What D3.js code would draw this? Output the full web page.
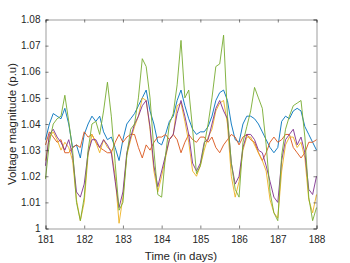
<!DOCTYPE html>
<html><head><meta charset="utf-8">
<script src="https://cdn.jsdelivr.net/npm/d3@7"></script>
<style>body{margin:0;background:#fff}svg{display:block}text{font-family:"Liberation Sans",Arial,sans-serif}</style>
</head><body><svg id="c" width="350" height="263"></svg>
<script>
const days = [181.0,181.1,181.2,181.3,181.4,181.5,181.6,181.7,181.8,181.9,
 182.0,182.1,182.2,182.3,182.4,182.5,182.6,182.7,182.8,182.9,
 183.0,183.1,183.2,183.3,183.4,183.5,183.6,183.7,183.8,183.9,
 184.0,184.1,184.2,184.3,184.4,184.5,184.6,184.7,184.8,184.9,
 185.0,185.1,185.2,185.3,185.4,185.5,185.6,185.7,185.8,185.9,
 186.0,186.1,186.2,186.3,186.4,186.5,186.6,186.7,186.8,186.9,
 187.0,187.1,187.2,187.3,187.4,187.5,187.6,187.7,187.8,187.9,188.0];
const blue = [1.034,1.040,1.044,1.043,1.042,1.046,1.040,1.031,1.032,1.027,
 1.036,1.040,1.043,1.041,1.043,1.037,1.034,1.035,1.031,1.026,
 1.034,1.040,1.042,1.044,1.047,1.050,1.053,1.045,1.040,1.033,
 1.032,1.036,1.041,1.043,1.049,1.053,1.047,1.042,1.038,1.036,
 1.037,1.037,1.039,1.043,1.049,1.052,1.053,1.049,1.040,1.034,
 1.033,1.040,1.043,1.043,1.042,1.040,1.037,1.034,1.031,1.029,
 1.031,1.041,1.043,1.042,1.045,1.046,1.045,1.039,1.036,1.033,1.030];
const orange = [1.032,1.037,1.035,1.033,1.034,1.029,1.029,1.031,1.032,1.031,
 1.037,1.035,1.036,1.033,1.031,1.030,1.029,1.029,1.033,1.036,
 1.033,1.035,1.036,1.036,1.031,1.027,1.032,1.030,1.033,1.035,
 1.035,1.036,1.034,1.036,1.034,1.029,1.033,1.036,1.034,1.033,
 1.035,1.035,1.033,1.035,1.031,1.029,1.032,1.034,1.036,1.035,
 1.032,1.035,1.036,1.034,1.033,1.029,1.026,1.029,1.033,1.035,
 1.033,1.034,1.036,1.036,1.031,1.029,1.027,1.029,1.033,1.033,1.034];
const yellow = [1.026,1.035,1.037,1.034,1.030,1.033,1.031,1.026,1.011,1.003,
 1.010,1.028,1.036,1.033,1.029,1.034,1.031,1.030,1.020,1.002,
 1.012,1.028,1.034,1.039,1.043,1.050,1.049,1.038,1.022,1.014,
 1.020,1.027,1.034,1.036,1.047,1.048,1.041,1.033,1.022,1.020,
 1.024,1.030,1.035,1.038,1.045,1.048,1.049,1.040,1.020,1.012,
 1.018,1.030,1.035,1.035,1.032,1.029,1.026,1.022,1.011,1.006,
 1.004,1.022,1.032,1.035,1.035,1.031,1.033,1.027,1.011,1.006,1.013];
const purple = [1.024,1.036,1.038,1.035,1.033,1.030,1.034,1.028,1.014,1.012,
 1.017,1.029,1.034,1.034,1.031,1.034,1.032,1.029,1.018,1.008,
 1.014,1.029,1.035,1.040,1.043,1.047,1.049,1.039,1.024,1.016,
 1.022,1.028,1.034,1.036,1.044,1.049,1.043,1.036,1.025,1.022,
 1.025,1.033,1.034,1.040,1.046,1.049,1.045,1.042,1.025,1.017,
 1.020,1.031,1.036,1.036,1.034,1.030,1.029,1.024,1.018,1.012,
 1.010,1.026,1.034,1.036,1.038,1.032,1.035,1.029,1.015,1.013,1.020];
const green = [1.019,1.033,1.040,1.042,1.043,1.051,1.041,1.030,1.010,1.003,
 1.012,1.030,1.040,1.041,1.036,1.045,1.056,1.043,1.025,1.007,
 1.010,1.028,1.038,1.040,1.050,1.065,1.062,1.050,1.030,1.013,
 1.012,1.028,1.040,1.044,1.055,1.072,1.050,1.053,1.038,1.021,
 1.024,1.032,1.040,1.050,1.062,1.063,1.074,1.043,1.025,1.015,
 1.012,1.033,1.039,1.045,1.054,1.050,1.046,1.032,1.014,1.006,
 1.003,1.028,1.038,1.043,1.047,1.048,1.049,1.035,1.012,1.003,1.008];
const xTicks = [181,182,183,184,185,186,187,188];
const yTicks = [1.00,1.01,1.02,1.03,1.04,1.05,1.06,1.07,1.08];
const seriesList = [blue, orange, yellow, purple, green];
const colors = ["#0072BD","#D95319","#EDB120","#7E2F8E","#77AC30"];

const svg = d3.select("#c");
const L=45.5, R=316.5, T=19.5, B=228.5;
const x = d3.scaleLinear().domain([181,188]).range([L,R]);
const y = d3.scaleLinear().domain([1.0,1.08]).range([B,T]);
const axisColor = "#262626";

const plotG = svg.append("g");
const line = d3.line().x((d,i)=>x(days[i])).y(d=>y(d));
seriesList.forEach((s,k)=>{
  plotG.append("path").datum(s).attr("d",line).attr("fill","none")
   .attr("stroke",colors[k]).attr("stroke-width",0.9).attr("stroke-linejoin","round");
});

const fmtY = d=> d===1 ? "1" : d3.format(".2f")(d);
const axB = svg.append("g").attr("transform",`translate(0,${B})`)
  .call(d3.axisBottom(x).tickValues(xTicks).tickSize(-3).tickPadding(7.5).tickFormat(d3.format("d")));
const axT = svg.append("g").attr("transform",`translate(0,${T})`)
  .call(d3.axisTop(x).tickValues(xTicks).tickSize(-3).tickFormat(""));
const axL = svg.append("g").attr("transform",`translate(${L},0)`)
  .call(d3.axisLeft(y).tickValues(yTicks).tickSize(-3).tickPadding(5).tickFormat(fmtY));
const axR = svg.append("g").attr("transform",`translate(${R},0)`)
  .call(d3.axisRight(y).tickValues(yTicks).tickSize(-3).tickFormat(""));
[axB,axT,axL,axR].forEach(a=>{
  a.select(".domain").attr("stroke",axisColor).attr("stroke-width",0.6).attr("stroke-opacity",0.75);
  a.selectAll(".tick line").attr("stroke",axisColor).attr("stroke-width",0.6);
  a.selectAll("text").attr("fill",axisColor).style("font-size","10px").style("font-family","'Liberation Sans',Arial,sans-serif");
});
svg.append("text").attr("x",(L+R)/2).attr("y",260).attr("text-anchor","middle")
  .attr("fill",axisColor).style("font-size","11.5px").text("Time (in days)");
svg.append("text").attr("transform",`translate(16,${(T+B)/2}) rotate(-90)`).attr("text-anchor","middle")
  .attr("fill",axisColor).style("font-size","11.5px").text("Voltage magnitude (p.u)");
</script></body></html>
